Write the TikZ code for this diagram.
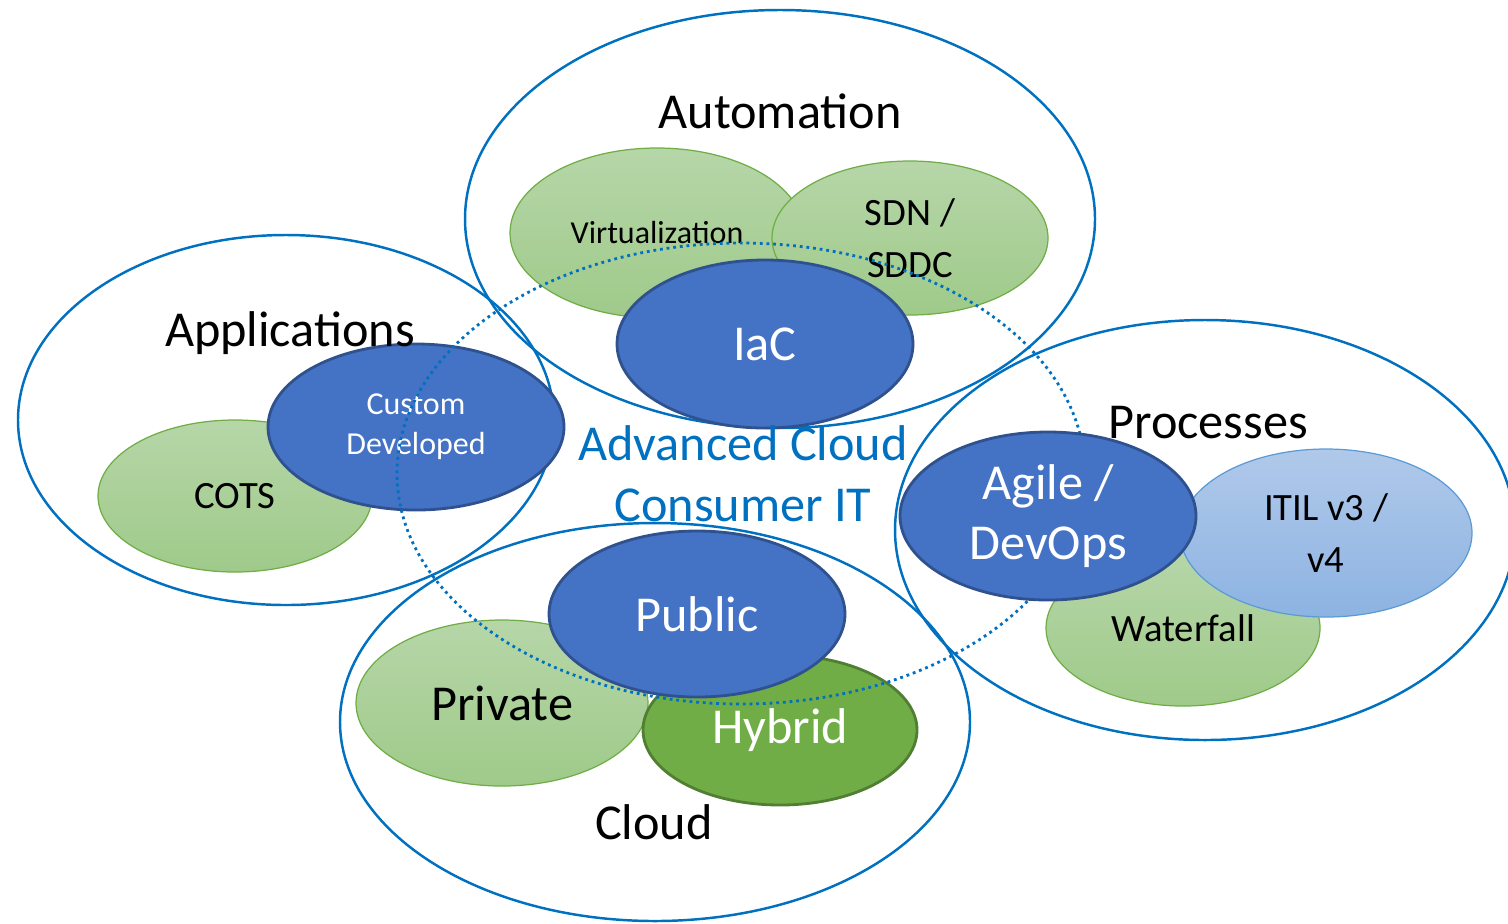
\documentclass[tikz,border=0pt]{standalone}
\usepackage{fontspec}
\setmainfont{Carlito}
\usetikzlibrary{shapes.geometric}
\definecolor{ringblue}{HTML}{0070C0}
\definecolor{blobblue}{HTML}{4472C4}
\definecolor{blobedge}{HTML}{2F528F}
\definecolor{leaftop}{HTML}{B6D6A8}
\definecolor{leafbottom}{HTML}{9FCA8A}
\definecolor{leafedge}{HTML}{70AD47}
\definecolor{hybridedge}{HTML}{507E32}
\definecolor{skytop}{HTML}{B0C9EA}
\definecolor{skybottom}{HTML}{8DB3E2}
\definecolor{skyedge}{HTML}{5B9BD5}
\tikzset{
  every node/.style={font=\fontsize{14.3}{17.1}\selectfont,align=center},
  ring/.style={ellipse,draw=ringblue,line width=.7pt,inner sep=0pt},
  dotring/.style={ellipse,draw=ringblue,line width=.8pt,dash pattern=on .8pt off 1.1pt,inner sep=0pt},
  blob/.style={ellipse,inner sep=0pt},
  leaf/.style={blob,top color=leaftop,bottom color=leafbottom,draw=leafedge,line width=.35pt},
  sky/.style={blob,top color=skytop,bottom color=skybottom,draw=skyedge,line width=.35pt},
  deep/.style={blob,fill=blobblue,draw=blobedge,line width=.8pt,text=white},
  hybridblob/.style={blob,fill=leafedge,draw=hybridedge,line width=.8pt,text=white},
  midfont/.style={font=\fontsize{11}{14.8}\selectfont},
  smallfont/.style={font=\fontsize{9.1}{11.4}\selectfont},
  heading/.style={anchor=base}}

\begin{document}
\begin{tikzpicture}[x=1cm,y=1cm]
\useasboundingbox (0,0) rectangle (15.08,-9.23);
% the four domains
\node[ring,minimum width=6.30cm,minimum height=4.18cm] (automation) at (7.80,-2.19) {};
\node[ring,minimum width=5.36cm,minimum height=3.70cm] (applications) at (2.86,-4.20) {};
\node[ring,minimum width=6.20cm,minimum height=4.20cm] (processes) at (12.05,-5.30) {};
\node[ring,minimum width=6.30cm,minimum height=3.98cm] (cloud) at (6.55,-7.22) {};
% automation
\node[leaf,smallfont,minimum width=2.94cm,minimum height=1.70cm] (virt) at (6.57,-2.33) {Virtualization};
\node[leaf,midfont,minimum width=2.76cm,minimum height=1.54cm] (sdn) at (9.10,-2.38) {SDN /\\SDDC};
\node[deep,minimum width=2.96cm,minimum height=1.68cm] (iac) at (7.65,-3.44) {IaC};
% applications
\node[leaf,midfont,minimum width=2.74cm,minimum height=1.52cm] (cots) at (2.35,-4.96) {COTS};
\node[deep,smallfont,minimum width=2.96cm,minimum height=1.66cm] (custom) at (4.16,-4.27) {Custom\\Developed};
% cloud
\node[leaf,minimum width=2.92cm,minimum height=1.66cm] (private) at (5.02,-7.03) {Private};
\node[hybridblob,minimum width=2.74cm,minimum height=1.50cm] (hybrid) at (7.80,-7.30) {Hybrid};
\node[deep,minimum width=2.96cm,minimum height=1.66cm] (public) at (6.97,-6.14) {Public};
% the consumer IT core
\node[dotring,minimum width=6.88cm,minimum height=4.61cm] (core) at (7.41,-4.735) {};
% processes
\node[leaf,midfont,minimum width=2.74cm,minimum height=1.56cm] (waterfall) at (11.83,-6.28) {Waterfall};
\node[sky,midfont,minimum width=2.92cm,minimum height=1.68cm] (itil) at (13.26,-5.33) {ITIL v3 /\\v4};
\node[deep,minimum width=2.96cm,minimum height=1.68cm] (agile) at (10.48,-5.16) {Agile /\\DevOps};
% headings
\node[heading] (automationlabel) at (7.80,-1.285) {Automation};
\node[heading] (applicationslabel) at (2.90,-3.46) {Applications};
\node[heading] (processeslabel) at (12.08,-4.38) {Processes};
\node[heading] (cloudlabel) at (6.54,-8.39) {Cloud};
\node[heading,text=ringblue] (corelabel) at (7.43,-5.21) {Advanced Cloud\\Consumer IT};
\end{tikzpicture}
\end{document}
